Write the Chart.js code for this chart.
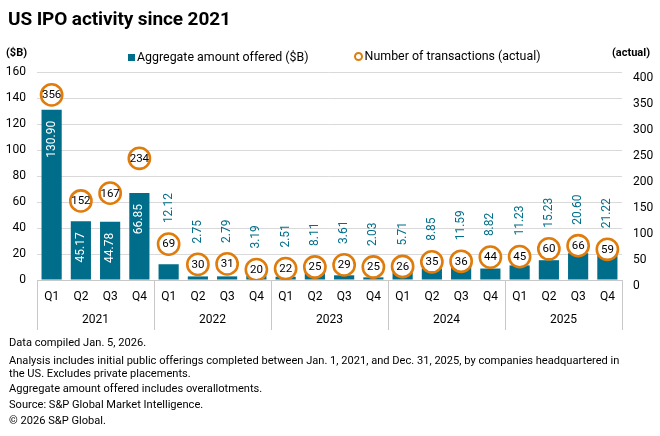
<!DOCTYPE html>
<html>
<head>
<meta charset="utf-8">
<script src="https://cdn.jsdelivr.net/npm/chart.js@4.4.1/dist/chart.umd.min.js"></script>
<style>
  html, body { margin: 0; padding: 0; background: #fff; }
  body { width: 660px; height: 436px; position: relative; overflow: hidden; font-family: Roboto, "Liberation Sans", sans-serif; color: #000; }
  #wrap { position: absolute; left: 0; top: 0; width: 660px; height: 436px; }
  .abs { position: absolute; white-space: nowrap; }
  #title { left: 8px; top: 8px; font-size: 19px; font-weight: 700; line-height: 22px; letter-spacing: -0.1px; }
  .axt { font-size: 11px; font-weight: 700; top: 46px; line-height: 14px; }
  #legend { left: 128px; top: 49px; font-size: 12.4px; line-height: 14px; }
  #legend span.it { display: inline-flex; align-items: center; }
  .sq { display: inline-block; width: 7px; height: 7px; background: #006e8a; margin-right: 2px; }
  .ci { display: inline-block; width: 5px; height: 5px; border: 2px solid #e07c0c; border-radius: 50%; margin-right: 2px; }
  #notes { left: 9px; top: 337px; font-size: 11.1px; line-height: 12.8px; }
  #notes p { margin: 0 0 3px 0; }
  #notes p.first { margin-bottom: 5px; }
</style>
</head>
<body>
<div id="wrap"><canvas id="c" width="660" height="436"></canvas></div>
<div id="title" class="abs">US IPO activity since 2021</div>
<div class="abs axt" style="left:6px;">($B)</div>
<div class="abs axt" style="left:612px;">(actual)</div>
<div id="legend" class="abs"><span class="it"><span class="sq"></span>Aggregate amount offered ($B)</span><span class="it" style="margin-left:45px;"><span class="ci"></span>Number of transactions (actual)</span></div>
<div id="notes" class="abs">
  <p class="first">Data compiled Jan. 5, 2026.</p>
  <p>Analysis includes initial public offerings completed between Jan. 1, 2021, and Dec. 31, 2025, by companies headquartered in<br>the US. Excludes private placements.</p>
  <p>Aggregate amount offered includes overallotments.</p>
  <p>Source: S&amp;P Global Market Intelligence.</p>
  <p>© 2026 S&amp;P Global.</p>
</div>
<script>
const quarters = ['Q1','Q2','Q3','Q4','Q1','Q2','Q3','Q4','Q1','Q2','Q3','Q4','Q1','Q2','Q3','Q4','Q1','Q2','Q3','Q4'];
const years = ['2021','2022','2023','2024','2025'];
const amountOffered = [130.90,45.17,44.78,66.85,12.12,2.75,2.79,3.19,2.51,8.11,3.61,2.03,5.71,8.85,11.59,8.82,11.23,15.23,20.60,21.22];
const transactions = [356,152,167,234,69,30,31,20,22,25,29,25,26,35,36,44,45,60,66,59];
const leftTicks = [0,20,40,60,80,100,120,140,160];
const rightTicks = [0,50,100,150,200,250,300,350,400];

const TEAL = '#006e8a';
const ORANGE = '#e07c0c';
const FONT = 'Roboto, "Liberation Sans", sans-serif';

const labelPlugin = {
  id: 'labels',
  afterDatasetsDraw(chart) {
    const ctx = chart.ctx;
    const barMeta = chart.getDatasetMeta(0);
    const ptMeta = chart.getDatasetMeta(1);
    ctx.save();
    barMeta.data.forEach((bar, i) => {
      const v = amountOffered[i];
      const txt = v.toFixed(2);
      ctx.save();
      ctx.font = '12px ' + FONT;
      ctx.textBaseline = 'middle';
      if (v >= 40) {
        ctx.fillStyle = '#ffffff';
        ctx.translate(bar.x, bar.y + 11);
        ctx.rotate(-Math.PI / 2);
        ctx.textAlign = 'right';
        ctx.fillText(txt, 0, 0);
      } else {
        const pt = ptMeta.data[i];
        ctx.fillStyle = TEAL;
        ctx.translate(bar.x, Math.min(pt.y, bar.y) - 21);
        ctx.rotate(-Math.PI / 2);
        ctx.textAlign = 'left';
        ctx.fillText(txt, 0, 0);
      }
      ctx.restore();
    });
    ptMeta.data.forEach((pt, i) => {
      ctx.font = '11.5px ' + FONT;
      ctx.fillStyle = '#000';
      ctx.textAlign = 'center';
      ctx.textBaseline = 'middle';
      ctx.fillText(String(transactions[i]), pt.x, pt.y + 0.5);
    });
    ctx.restore();
  },
  afterDraw(chart) {
    const ctx = chart.ctx;
    const x = chart.scales.x;
    ctx.save();
    ctx.strokeStyle = '#c8c8c8';
    ctx.lineWidth = 1;
    for (let i = 0; i <= years.length; i++) {
      const px = Math.round(x.getPixelForDecimal(i / years.length)) + 0.5;
      ctx.beginPath();
      ctx.moveTo(px, chart.chartArea.bottom);
      ctx.lineTo(px, chart.scales.xYear.bottom);
      ctx.stroke();
    }
    ctx.restore();
  }
};

new Chart(document.getElementById('c'), {
  data: {
    labels: quarters,
    datasets: [
      {
        type: 'bar',
        label: 'Aggregate amount offered ($B)',
        data: amountOffered,
        backgroundColor: TEAL,
        yAxisID: 'y',
        xAxisID: 'x',
        barPercentage: 0.69,
        categoryPercentage: 1.0,
        order: 2
      },
      {
        type: 'line',
        label: 'Number of transactions (actual)',
        data: transactions,
        yAxisID: 'y1',
        xAxisID: 'x',
        showLine: false,
        pointRadius: 10.6,
        pointBorderWidth: 2.6,
        pointBorderColor: ORANGE,
        pointBackgroundColor: '#ffffff',
        order: 1
      }
    ]
  },
  options: {
    responsive: false,
    animation: false,
    devicePixelRatio: 1,
    layout: { padding: { top: 72, bottom: 106, left: 0, right: 0 } },
    plugins: { legend: { display: false }, tooltip: { enabled: false } },
    scales: {
      x: {
        type: 'category',
        position: 'bottom',
        offset: true,
        grid: { display: false, drawTicks: false },
        border: { display: true, color: '#c8c8c8' },
        ticks: { color: '#000', font: { family: FONT, size: 12 }, padding: 10, maxRotation: 0, autoSkip: false },
        afterFit(s) { s.height = 27; }
      },
      xYear: {
        type: 'category',
        position: 'bottom',
        labels: years,
        offset: true,
        grid: { display: false, drawTicks: false },
        border: { display: false },
        ticks: { color: '#000', font: { family: FONT, size: 12 }, padding: 6, maxRotation: 0, autoSkip: false },
        afterFit(s) { s.height = 23; }
      },
      y: {
        position: 'left',
        min: 0, max: 160,
        afterBuildTicks(s) { s.ticks = leftTicks.map(v => ({ value: v })); },
        grid: { color: '#d9d9d9', drawTicks: false },
        border: { display: false },
        ticks: { color: '#000', font: { family: FONT, size: 12 }, padding: 11 },
        afterFit(s) { s.width = 37; }
      },
      y1: {
        position: 'right',
        min: 0, max: 400,
        afterBuildTicks(s) { s.ticks = rightTicks.map(v => ({ value: v })); },
        grid: { display: false, drawTicks: false },
        border: { display: false },
        ticks: { color: '#000', font: { family: FONT, size: 12 }, padding: 11, align: 'start' },
        afterFit(s) { s.width = 38; }
      }
    }
  },
  plugins: [labelPlugin]
});
</script>
</body>
</html>
